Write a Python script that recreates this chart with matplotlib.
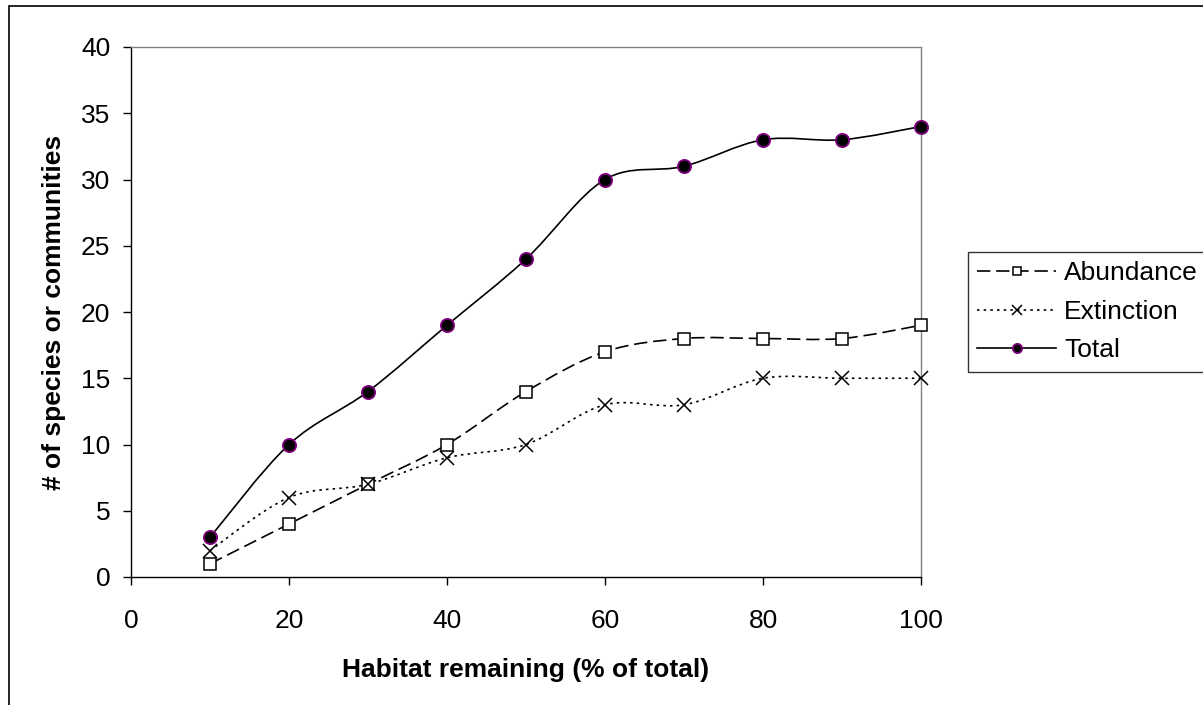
import matplotlib
matplotlib.use("Agg")
import matplotlib.pyplot as plt
import numpy as np
from matplotlib.path import Path
from matplotlib.patches import PathPatch, Rectangle
from matplotlib.lines import Line2D

plt.rcParams['font.family'] = ['Liberation Sans', 'DejaVu Sans']

# data
habitat = [10, 20, 30, 40, 50, 60, 70, 80, 90, 100]
abundance = [1, 4, 7, 10, 14, 17, 18, 18, 18, 19]
extinction = [2, 6, 7, 9, 10, 13, 13, 15, 15, 15]
total = [3, 10, 14, 19, 24, 30, 31, 33, 33, 34]
series_names = ["Abundance", "Extinction", "Total"]
xticks = [0, 20, 40, 60, 80, 100]
yticks = [0, 5, 10, 15, 20, 25, 30, 35, 40]


def smooth_path(xs, ys):
    # excel-like smoothed line: bezier segments with 1/6 tangents
    pts = np.column_stack([xs, ys]).astype(float)
    n = len(pts)
    verts = [pts[0]]
    codes = [Path.MOVETO]
    for i in range(n - 1):
        p0 = pts[i - 1] if i > 0 else pts[i]
        p1 = pts[i]
        p2 = pts[i + 1]
        p3 = pts[i + 2] if i + 2 < n else pts[i + 1]
        c1 = p1 + (p2 - p0) / 6.0
        c2 = p2 - (p3 - p1) / 6.0
        verts += [c1, c2, p2]
        codes += [Path.CURVE4] * 3
    return Path(verts, codes)


fig = plt.figure(figsize=(12.03, 7.05), dpi=100)
ax = fig.add_axes([131 / 1203, 1 - 577 / 705, 790 / 1203, 530 / 705])

styles = [
    dict(ls=(0, (8, 3.5)), marker='s', mfc='white', mec='black', ms=8.5, mew=1.1),
    dict(ls=(0, (1.5, 2.5)), marker='x', mfc='none', mec='black', ms=9.5, mew=1.1),
    dict(ls='-', marker='o', mfc='black', mec='#800080', ms=9.5, mew=1.3),
]
data = [abundance, extinction, total]

handles = []
for ys, st, name in zip(data, styles, series_names):
    patch = PathPatch(smooth_path(habitat, ys), fill=False, edgecolor='black',
                      lw=1.2, linestyle=st['ls'], zorder=2)
    ax.add_patch(patch)
    ax.plot(habitat, ys, linestyle='none', marker=st['marker'], mfc=st['mfc'],
            mec=st['mec'], ms=st['ms'], mew=st['mew'], zorder=3, clip_on=False)
    handles.append(Line2D([], [], color='black', lw=1.2, linestyle=st['ls'],
                          marker=st['marker'], mfc=st['mfc'], mec=st['mec'],
                          ms=st['ms'] * 0.7, mew=st['mew'], label=name))

ax.set_xlim(0, 100)
ax.set_ylim(0, 40)
ax.set_xticks(xticks)
ax.set_yticks(yticks)
ax.tick_params(direction='out', length=6, width=1, labelsize=19)
ax.tick_params(axis='y', pad=9)
ax.tick_params(axis='x', pad=17)
for side in ['top', 'right']:
    ax.spines[side].set_color('#808080')
    ax.spines[side].set_linewidth(1)
for side in ['left', 'bottom']:
    ax.spines[side].set_color('black')
    ax.spines[side].set_linewidth(1)

ax.set_xlabel("Habitat remaining (% of total)", fontsize=19, fontweight='bold', labelpad=18)
ax.set_ylabel("# of species or communities", fontsize=19, fontweight='bold', labelpad=11)

leg = fig.legend(handles=handles, loc='upper left',
                 bbox_to_anchor=(968 / 1203, 1 - 252 / 705),
                 fontsize=19, frameon=True, fancybox=False, handlelength=3.0,
                 handletextpad=0.3, labelspacing=0.55, borderpad=0.35,
                 borderaxespad=0)
leg.get_frame().set_edgecolor('black')
leg.get_frame().set_linewidth(1)

# chart area border
fig.patches.append(Rectangle((9 / 1203, -0.05), 1.0, 1.05 - 6 / 705,
                             transform=fig.transFigure, fill=False,
                             edgecolor='black', lw=1.2))

fig.savefig("out.png", dpi=100)
